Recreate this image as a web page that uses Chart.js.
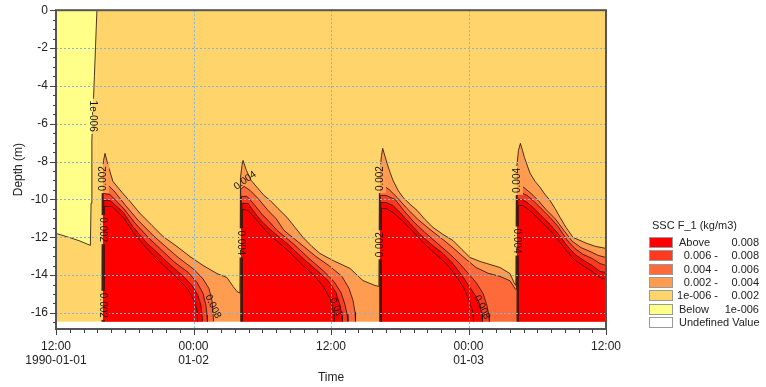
<!DOCTYPE html>
<html>
<head>
<meta charset="utf-8">
<script src="https://cdn.jsdelivr.net/npm/chart.js@4.4.1/dist/chart.umd.min.js"></script>
<style>
  html, body { margin: 0; padding: 0; background: #fff; }
  #box { position: relative; width: 766px; height: 387px; font-family: "Liberation Sans", Arial, sans-serif; color: #222; }
  #grafico { position: absolute; left: 0; top: 0; }
  .leg-titulo { position: absolute; left: 652px; top: 219px; font-size: 11px; line-height: 13px; white-space: nowrap; }
  .leg-cor { position: absolute; left: 649px; width: 22px; height: 9px; border: 1px solid #9a9a9a; }
  .leg-txt { position: absolute; font-size: 11px; line-height: 13px; white-space: nowrap; }
</style>
</head>
<body>
<div id="box">
  <canvas id="grafico" width="766" height="387"></canvas>
</div>
<script>
// ===== DADOS =====
// x = horas desde 1990-01-01 12:00, y = profundidade (m)
const xTicks = [0, 12, 24, 36, 48];
const xTickLabels = [["12:00", "1990-01-01"], ["00:00", "01-02"], "12:00", ["00:00", "01-03"], "12:00"];
const yTicks = [0, -2, -4, -6, -8, -10, -12, -14, -16];
const surfaceDepth = 0;
const bedDepth = -16.45;

const legendText = ["Above", "0.006 -", "0.004 -", "0.002 -", "1e-006 -", "Below", "Undefined Value"];
const legendValue = ["0.008", "0.008", "0.006", "0.004", "0.002", "1e-006", ""];
const legendColors = ["#ff0000", "#ff3a1e", "#ff6a3a", "#ff9c50", "#ffd46b", "#ffff8a", "#ffffff"];

// contornos de SSC: [hora, profundidade]
const surface = [[0, 0], [48, 0]];

const c1e6 = [[0, -11.8], [1, -11.98], [2, -12.18], [3.0, -12.43], [3.06, -10.2], [3.13, -6.9], [3.35, -3.5], [3.57, 0], [48, 0]];

const c002 = [
  [0, -16.45], [4.0, -16.45], [4.03, -8.73], [4.15, -7.94], [4.28, -7.57], [4.54, -8.2], [4.97, -9.05], [5.76, -9.63],
  [6.46, -10.11], [7.33, -10.74], [8.38, -11.38], [9.34, -11.96], [10.56, -12.49], [11.69, -13.02], [12.83, -13.49],
  [14.05, -13.92], [14.92, -14.13], [15.45, -14.6], [15.8, -14.87],
  [16.05, -14.95], [16.1, -8.84], [16.23, -8.2], [16.32, -7.94], [16.62, -8.47], [17.02, -8.99], [17.54, -9.36],
  [18.15, -9.79], [18.68, -10.05], [19.37, -10.48], [20.16, -10.95], [20.86, -11.48], [21.56, -12.01], [22.34, -12.49],
  [23.04, -12.86], [24.18, -13.23], [25.66, -13.65], [26.79, -14.29], [27.4, -14.44], [27.84, -14.55],
  [28.18, -14.6], [28.23, -8.73], [28.41, -7.67], [28.51, -7.3], [28.71, -7.72], [28.89, -8.09], [29.15, -8.57],
  [29.41, -8.99], [29.85, -9.52], [30.28, -9.89], [30.9, -10.26], [31.51, -10.58], [32.2, -11.06], [32.9, -11.48],
  [33.77, -11.85], [34.64, -12.17], [35.43, -12.65], [36.13, -13.07], [37.0, -13.28], [37.61, -13.39], [38.75, -13.6],
  [39.62, -13.92], [39.97, -14.39],
  [40.13, -14.55], [40.18, -8.47], [40.36, -7.41], [40.53, -7.04], [40.71, -7.41], [40.88, -7.78], [41.37, -8.62],
  [41.81, -9.05], [42.24, -9.36], [42.68, -9.74], [43.11, -10.05], [43.55, -10.48], [43.99, -10.95], [44.51, -11.48],
  [45.12, -12.01], [45.73, -12.17], [46.34, -12.33], [47.13, -12.49], [48, -12.59]
];

const c004 = [
  [0, -16.45], [4.05, -16.45], [4.07, -9.26], [4.36, -9.15], [5.06, -9.55], [6.11, -10.35], [7.16, -11.1], [8.55, -11.95],
  [9.77, -12.6], [10.73, -13.1], [12.04, -13.7], [12.83, -14.2], [13.35, -14.71], [13.61, -15.34], [13.7, -15.98], [13.75, -16.45],
  [16.1, -16.45], [16.12, -9.47], [16.41, -9.31], [16.93, -9.52], [17.63, -9.95], [18.5, -10.58], [19.2, -11.01],
  [19.9, -11.64], [21.3, -12.33], [22.69, -13.02], [23.91, -13.54], [24.96, -14.07], [25.57, -14.71], [25.92, -15.34],
  [26.1, -15.98], [26.14, -16.45],
  [28.23, -16.45], [28.25, -9.42], [28.54, -9.26], [29.06, -9.47], [29.76, -9.89], [30.63, -10.48], [31.59, -11.06],
  [32.64, -11.59], [33.77, -12.12], [34.82, -12.65], [35.7, -13.12], [36.66, -13.6], [37.7, -13.9], [38.75, -14.07],
  [39.62, -14.3], [40.1, -14.75],
  [40.18, -14.75], [40.2, -9.26], [40.49, -9.21], [40.93, -9.42], [41.45, -9.68], [42.07, -10.05], [42.76, -10.53],
  [43.55, -11.01], [44.34, -11.65], [45.03, -12.2], [45.82, -12.55], [46.61, -12.75], [47.31, -12.96], [48, -13.07]
];

const c006 = [
  [0, -16.45], [4.1, -16.45], [4.12, -9.68], [4.71, -9.74], [5.93, -10.5], [6.89, -11.25], [8.2, -12.1], [9.43, -12.8],
  [10.3, -13.3], [11.52, -13.85], [12.31, -14.39], [12.83, -14.97], [13.09, -15.61], [13.18, -16.14], [13.22, -16.45],
  [16.15, -16.45], [16.17, -9.84], [16.67, -9.84], [17.28, -10.26], [17.98, -10.79], [18.68, -11.22], [19.29, -11.64],
  [20.68, -12.33], [22.08, -13.12], [23.3, -13.76], [24.26, -14.34], [24.87, -14.92], [25.22, -15.55], [25.4, -16.08],
  [25.48, -16.45],
  [28.28, -16.45], [28.3, -9.79], [28.8, -9.79], [29.59, -10.0], [30.37, -10.6], [31.24, -11.2], [32.2, -11.75],
  [33.34, -12.35], [34.3, -12.85], [35.17, -13.35], [35.96, -13.9], [36.66, -14.39], [37.27, -14.97], [37.61, -15.61],
  [37.79, -16.14], [37.83, -16.45],
  [40.23, -16.45], [40.25, -9.63], [40.58, -9.63], [41.11, -9.79], [41.63, -10.05], [42.33, -10.48], [43.11, -10.95],
  [43.81, -11.43], [44.6, -12.15], [45.29, -12.6], [45.99, -12.9], [46.78, -13.12], [47.48, -13.39], [48, -13.49]
];

const c008 = [
  [0, -16.45], [4.15, -16.45], [4.17, -10.05], [4.71, -10.05], [5.85, -10.67], [6.72, -11.45], [7.92, -12.3],
  [9.08, -12.95], [9.95, -13.45], [11.08, -14.05], [11.87, -14.55], [12.39, -15.08], [12.65, -15.61], [12.74, -16.14],
  [12.79, -16.45],
  [16.2, -16.45], [16.22, -10.21], [16.76, -10.21], [17.19, -10.58], [17.8, -11.06], [18.68, -11.59], [20.16, -12.33],
  [21.56, -13.12], [22.78, -13.76], [23.74, -14.29], [24.44, -14.92], [24.79, -15.61], [24.96, -16.14], [25.0, -16.45],
  [28.33, -16.45], [28.35, -10.16], [28.8, -10.16], [29.41, -10.32], [30.02, -10.69], [30.9, -11.27], [31.77, -11.85],
  [32.9, -12.45], [33.77, -12.86], [34.64, -13.39], [35.43, -14.02], [36.13, -14.66], [36.66, -15.13], [37.0, -15.56],
  [37.18, -16.08], [37.22, -16.45],
  [40.28, -16.45], [40.3, -10.0], [40.67, -10.0], [41.11, -10.16], [41.63, -10.42], [42.33, -10.85], [43.11, -11.32],
  [43.81, -11.8], [44.6, -12.45], [45.29, -12.9], [45.99, -13.2], [46.78, -13.49], [47.48, -13.81], [48, -13.86]
];

const c010 = [
  [0, -16.45], [4.2, -16.45], [4.22, -10.37], [4.89, -10.37], [5.93, -11.0], [6.81, -11.8], [7.94, -12.6], [8.9, -13.2],
  [9.77, -13.7], [10.82, -14.3], [11.52, -14.76], [12.04, -15.34], [12.31, -15.87], [12.35, -16.45],
  [16.25, -16.45], [16.27, -10.53], [16.76, -10.58], [17.46, -11.06], [18.68, -11.9], [20.16, -12.65], [21.47, -13.44],
  [22.6, -14.07], [23.39, -14.66], [23.91, -15.24], [24.18, -15.87], [24.26, -16.45],
  [28.38, -16.45], [28.4, -10.48], [28.8, -10.48], [29.41, -10.69], [30.2, -11.11], [31.07, -11.64], [32.2, -12.38],
  [33.25, -12.95], [34.21, -13.49], [35.08, -14.18], [35.7, -14.81], [36.13, -15.45], [36.39, -15.98], [36.44, -16.45],
  [40.33, -16.45], [40.35, -10.32], [40.67, -10.32], [41.11, -10.48], [41.63, -10.74], [42.33, -11.16], [43.11, -11.64],
  [43.81, -12.12], [44.6, -12.75], [45.29, -13.2], [45.99, -13.5], [46.78, -13.81], [47.48, -14.13], [48, -14.23]
];

// rótulos dos contornos: [hora, profundidade, texto, rotação, fundo esq., fundo dir.] (índices de legendColors)
const contourLabels = [
  [3.21, -5.6, "1e-006", 90, 5, 4],
  [4.1, -8.9, "0.002", -90, 4, 3],
  [4.1, -11.6, "0.002", 90, 4, 0],
  [4.1, -15.6, "0.002", 90, 4, 0],
  [16.5, -9.0, "0.004", -35, -1, -1],
  [16.15, -12.3, "0.004", 90, 4, 0],
  [28.28, -8.9, "0.002", -90, 4, 3],
  [28.28, -12.4, "0.002", -90, 4, 0],
  [40.23, -9.0, "0.004", -90, 4, 3],
  [40.23, -12.2, "0.004", 90, 4, 0],
  [13.7, -15.66, "0.008", 65, -1, -1],
  [24.44, -15.7, "0.01", 65, -1, -1],
  [37.18, -15.7, "0.008", 65, -1, -1]
];

// ===== CAMADAS =====
const fonte = "'Liberation Sans', Arial, sans-serif";
const corLinha = "rgba(45,22,15,0.85)";

const camadas = [
  { pts: surface, cor: legendColors[5], linha: false },
  { pts: c1e6, cor: legendColors[4] },
  { pts: c002, cor: legendColors[3] },
  { pts: c004, cor: legendColors[2] },
  { pts: c006, cor: legendColors[1] },
  { pts: c008, cor: legendColors[0] },
  { pts: c010, cor: null }
];

function corSegmento(c) {
  const y0 = c.p0.parsed.y, y1 = c.p1.parsed.y;
  if (y0 === y1 && (y0 === bedDepth || y0 === surfaceDepth)) return "rgba(0,0,0,0)";
  return corLinha;
}

const datasets = camadas.map((c, i) => ({
  data: c.pts.map(([t, d]) => ({ x: t, y: d })),
  borderColor: corLinha,
  borderWidth: c.linha === false ? 0 : 1,
  backgroundColor: c.cor || "rgba(0,0,0,0)",
  fill: c.cor ? { value: bedDepth } : false,
  pointRadius: 0,
  tension: 0,
  order: camadas.length - i,
  segment: { borderColor: corSegmento }
}));

// ===== DESENHO EXTRA (grade, rótulos, moldura, traços) =====
const desenhoExtra = {
  id: "desenhoExtra",
  afterDatasetsDraw(chart) {
    const { ctx, chartArea: a, scales: { x, y } } = chart;
    ctx.save();

    // grade pontilhada
    ctx.strokeStyle = "#86b3d6";
    ctx.lineWidth = 1;
    ctx.setLineDash([2, 2]);
    ctx.beginPath();
    xTicks.slice(1, -1).forEach(v => {
      const px = Math.round(x.getPixelForValue(v)) + 0.5;
      ctx.moveTo(px, a.top); ctx.lineTo(px, a.bottom);
    });
    yTicks.slice(1).forEach(v => {
      const py = Math.round(y.getPixelForValue(v)) + 0.5;
      ctx.moveTo(a.left, py); ctx.lineTo(a.right, py);
    });
    ctx.stroke();
    ctx.setLineDash([]);

    // rótulos
    ctx.font = "10px " + fonte;
    ctx.textAlign = "center";
    ctx.textBaseline = "middle";
    contourLabels.forEach(([t, d, txt, rot, fe, fd]) => {
      const px = x.getPixelForValue(t), py = y.getPixelForValue(d);
      const w = ctx.measureText(txt).width;
      if (fe >= 0) {
        const h = w / 2 + 2;
        ctx.fillStyle = legendColors[fe];
        ctx.fillRect(px - 6, py - h, 6, 2 * h);
        ctx.fillStyle = legendColors[fd];
        ctx.fillRect(px, py - h, 6, 2 * h);
      }
      ctx.save();
      ctx.translate(px, py);
      ctx.rotate(rot * Math.PI / 180);
      ctx.fillStyle = "#111";
      ctx.fillText(txt, 0, 0);
      ctx.restore();
    });

    // moldura
    ctx.strokeStyle = "#555";
    ctx.lineWidth = 2;
    ctx.strokeRect(a.left, a.top, a.right - a.left, a.bottom - a.top);

    // traços dos eixos
    ctx.strokeStyle = "#444";
    ctx.lineWidth = 1;
    ctx.beginPath();
    for (let i = 0; i <= 40; i++) {
      const px = Math.round(x.getPixelForValue(i * 1.2)) + 0.5;
      ctx.moveTo(px, a.bottom);
      ctx.lineTo(px, a.bottom + (i % 10 === 0 ? 6 : 4));
    }
    for (let i = 0; i <= 33; i++) {
      const py = Math.round(y.getPixelForValue(-i * 0.5)) + 0.5;
      ctx.moveTo(a.left, py);
      ctx.lineTo(a.left - (i % 4 === 0 ? 6 : 3), py);
    }
    ctx.stroke();
    ctx.restore();
  }
};

// ===== GRÁFICO =====
new Chart(document.getElementById("grafico"), {
  type: "line",
  data: { datasets },
  options: {
    responsive: false,
    animation: false,
    events: [],
    layout: { padding: { left: 0, top: 10, right: 160, bottom: 0 } },
    plugins: {
      legend: { display: false },
      tooltip: { enabled: false },
      filler: { drawTime: "beforeDatasetsDraw" }
    },
    scales: {
      x: {
        type: "linear",
        min: 0,
        max: 48,
        afterBuildTicks: s => { s.ticks = xTicks.map(v => ({ value: v })); },
        afterFit: s => { s.height = 58; },
        grid: { color: "rgba(0,0,0,0)", tickLength: 5 },
        border: { display: false },
        ticks: {
          autoSkip: false,
          maxRotation: 0,
          padding: 5,
          color: "#222",
          font: { family: fonte, size: 12 },
          callback: (v, i) => xTickLabels[i]
        },
        title: { display: true, text: "Time", color: "#222", font: { family: fonte, size: 12 }, padding: { top: 0, bottom: 2 } }
      },
      y: {
        type: "linear",
        min: -16.85,
        max: 0,
        afterBuildTicks: s => { s.ticks = yTicks.map(v => ({ value: v })); },
        afterFit: s => { s.width = 56; },
        grid: { color: "rgba(0,0,0,0)", tickLength: 5 },
        border: { display: false },
        ticks: {
          padding: 3,
          color: "#222",
          font: { family: fonte, size: 12 },
          callback: v => String(v)
        },
        title: { display: true, text: "Depth (m)", color: "#222", font: { family: fonte, size: 12 }, padding: { top: 11, bottom: 0 } }
      }
    }
  },
  plugins: [desenhoExtra]
});

// ===== LEGENDA =====
function montarLegenda() {
  const box = document.getElementById("box");
  const titulo = document.createElement("div");
  titulo.className = "leg-titulo";
  titulo.textContent = "SSC F_1 (kg/m3)";
  box.appendChild(titulo);

  legendText.forEach((txt, i) => {
    const topo = Math.round(237 + i * 13.33);
    const cor = document.createElement("div");
    cor.className = "leg-cor";
    cor.style.top = topo + "px";
    cor.style.background = legendColors[i];
    box.appendChild(cor);

    const esq = document.createElement("div");
    esq.className = "leg-txt";
    esq.style.top = (topo - 1) + "px";
    esq.textContent = txt;
    if (txt.endsWith(" -")) {
      esq.style.right = "48px";
      esq.style.textAlign = "right";
    } else {
      esq.style.left = "679px";
    }
    box.appendChild(esq);

    if (legendValue[i]) {
      const dir = document.createElement("div");
      dir.className = "leg-txt";
      dir.style.top = (topo - 1) + "px";
      dir.style.right = "7px";
      dir.style.textAlign = "right";
      dir.textContent = legendValue[i];
      box.appendChild(dir);
    }
  });
}

document.addEventListener("DOMContentLoaded", montarLegenda);
</script>
</body>
</html>
